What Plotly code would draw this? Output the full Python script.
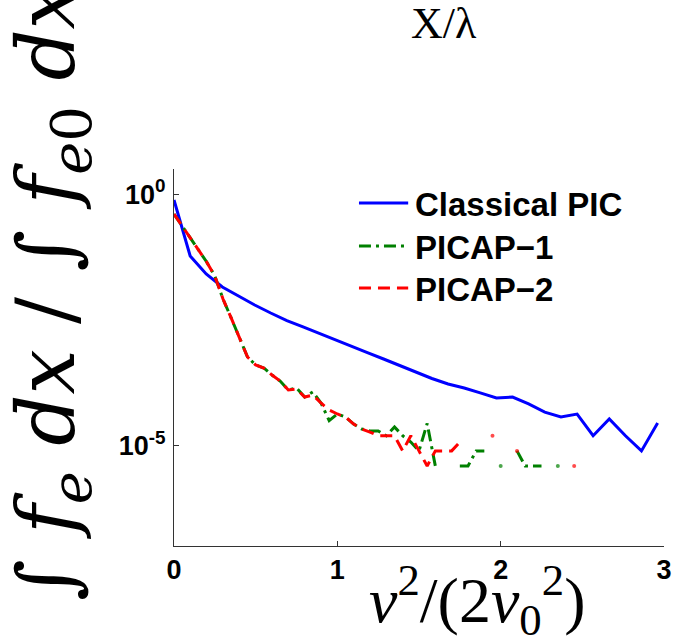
import plotly.graph_objects as go

# Energy axis v^2/(2 v0^2) and normalised electron distributions
x_classical = [0.000, 0.099, 0.197, 0.296, 0.395, 0.494, 0.592, 0.691, 0.790, 0.888,
               0.987, 1.086, 1.184, 1.283, 1.382, 1.481, 1.579, 1.678, 1.777, 1.875,
               1.974, 2.073, 2.171, 2.270, 2.369, 2.468, 2.566, 2.665, 2.764, 2.862,
               2.961]
f_classical = [0.764, 0.0587, 0.0258, 0.0142, 0.0094, 0.00622, 0.00432, 0.00305, 0.00228, 0.00169,
               0.00125, 9.53e-4, 7.03e-4, 5.25e-4, 3.90e-4, 2.89e-4, 2.15e-4, 1.67e-4, 1.39e-4, 1.11e-4,
               8.8e-5, 9.2e-5, 6.7e-5, 4.6e-5, 3.7e-5, 4.2e-5, 1.56e-5, 3.36e-5, 1.56e-5, 7.8e-6,
               2.8e-5]

x_picap = [0.00, 0.05, 0.10, 0.15, 0.20, 0.25, 0.30, 0.35, 0.40, 0.45,
           0.50, 0.55, 0.60, 0.65, 0.70, 0.75, 0.80, 0.85, 0.90, 0.95,
           1.00, 1.05, 1.10, 1.15, 1.20, 1.25, 1.30, 1.35, 1.40, 1.45,
           1.50, 1.55, 1.60, 1.65, 1.70, 1.75, 1.80, 1.85, 1.90, 1.95,
           2.00, 2.05, 2.10, 2.15, 2.20, 2.25, 2.30, 2.35, 2.40, 2.45]
f_picap1 = [0.402, 0.232, 0.134, 0.0773, 0.0447, 0.0235, 0.0082, 0.00344, 0.00144, 5.75e-4,
            3.99e-4, 3.48e-4, 2.52e-4, 1.91e-4, 1.27e-4, 1.40e-4, 9.2e-5, 1.16e-4, 7.0e-5, 3.12e-5,
            4.23e-5, 3.68e-5, 2.67e-5, 2.12e-5, 1.95e-5, 1.95e-5, 1.56e-5, 2.34e-5, 1.56e-5, 1.17e-5,
            7.8e-6, 2.73e-5, 3.9e-6, None, None, 3.9e-6, 3.9e-6, 7.8e-6, 7.8e-6, None,
            3.9e-6, None, 7.8e-6, 3.9e-6, 3.9e-6, 3.9e-6, None, 3.9e-6, None, None]
f_picap2 = [0.402, 0.232, 0.134, 0.0773, 0.0447, 0.0235, 0.0082, 0.00344, 0.00144, 5.75e-4,
            3.99e-4, 3.48e-4, 2.52e-4, 1.91e-4, 1.27e-4, 1.33e-4, 9.2e-5, 1.01e-4, 7.0e-5, 5.07e-5,
            4.23e-5, 3.68e-5, 2.67e-5, 2.12e-5, 1.85e-5, 1.56e-5, 1.56e-5, 1.56e-5, 7.8e-6, 1.56e-5,
            7.8e-6, 3.9e-6, 7.8e-6, 7.8e-6, 7.8e-6, 1.17e-5, None, None, None, 1.56e-5,
            None, None, 7.8e-6, None, None, None, None, None, None, 3.9e-6]

x_ticks = [0, 1, 2, 3]
x_ticklabels = ["<b>0</b>", "<b>1</b>", "<b>2</b>", "<b>3</b>"]
y_ticks = [1, 1e-5]
y_ticklabels = ["<b>10<sup>0</sup></b>", "<b>10<sup>-5</sup></b>"]

series = [
    ("Classical PIC", x_classical, f_classical, "#0000ff", "solid"),
    ("PICAP\u22121", x_picap, f_picap1, "#008000", "12px,5px,3px,5px"),
    ("PICAP\u22122", x_picap, f_picap2, "#ff0000", "12px,7px"),
]

# plot area in pixels
W, H = 684, 644
L, R, T, B = 174, 12, 169, 98
PW, PH = W - L - R, H - T - B


def px(xp):
    return (xp - L) / PW


def py(yp):
    return (H - B - yp) / PH


def lone_point_sizes(vals, size):
    """Marker size for samples that have no neighbours to join with a line."""
    out = []
    n = len(vals)
    for k, v in enumerate(vals):
        before = k == 0 or vals[k - 1] is None
        after = k == n - 1 or vals[k + 1] is None
        out.append(size if (v is not None and before and after) else 0)
    return out


fig = go.Figure()
for name, xs, ys, color, dash in series:
    fig.add_trace(go.Scatter(
        x=xs, y=ys, name=name, mode="lines+markers",
        line=dict(color=color, width=3, dash=dash),
        marker=dict(color=color, size=lone_point_sizes(ys, 4), line=dict(width=0)),
        connectgaps=False, showlegend=False,
    ))

axis_font = dict(family="Liberation Sans", size=27, color="black")

fig.update_xaxes(
    range=[0, 3], tickvals=x_ticks, ticktext=x_ticklabels,
    ticks="inside", ticklen=5, tickwidth=1, tickcolor="#333",
    showline=True, linecolor="#333", linewidth=1,
    showgrid=False, zeroline=False, tickfont=axis_font, ticklabelstandoff=0,
)
fig.update_yaxes(
    type="log", range=[-7, 0.5], tickvals=y_ticks, ticktext=y_ticklabels,
    ticks="inside", ticklen=5, tickwidth=1, tickcolor="#333",
    showline=True, linecolor="#333", linewidth=1,
    showgrid=False, zeroline=False, tickfont=axis_font, ticklabelstandoff=2,
)

annotations = []
shapes = []

# legend drawn as line samples with labels
legend_rows = [203, 246, 288]
for (name, xs, ys, color, dash), yrow in zip(series, legend_rows):
    shapes.append(dict(type="line", xref="paper", yref="paper",
                       x0=px(362), x1=px(412), y0=py(yrow), y1=py(yrow),
                       line=dict(color=color, width=3, dash=dash)))
    annotations.append(dict(text="<b>" + name + "</b>", xref="paper", yref="paper",
                            x=px(417), y=py(yrow + 1), xanchor="left", yanchor="middle",
                            showarrow=False,
                            font=dict(family="Liberation Sans", size=33, color="black")))

serif = "Liberation Serif, serif"
math_serif = "DejaVu Serif, serif"
annotations.append(dict(text="X/\u03bb", xref="paper", yref="paper",
                        x=px(448), y=py(23), xanchor="center", yanchor="middle",
                        showarrow=False, font=dict(family=serif, size=44, color="black")))
annotations.append(dict(text="<i>v</i><sup>2</sup>/(2<i>v</i><sub>0</sub><sup>2</sup>)",
                        xref="paper", yref="paper",
                        x=px(482), y=py(600), xanchor="center", yanchor="middle",
                        showarrow=False, font=dict(family=serif, size=64, color="black")))
annotations.append(dict(text="\u222b <i>f</i><sub><i>e</i></sub> <i>dx</i> / "
                             "\u222b <i>f</i><sub><i>e</i>0</sub> <i>dx</i>",
                        xref="paper", yref="paper", textangle=-90,
                        x=px(50), y=py(292), xanchor="center", yanchor="middle",
                        showarrow=False,
                        font=dict(family=math_serif, size=80, color="black", weight="normal")))

fig.update_layout(
    width=W, height=H, autosize=False,
    margin=dict(l=L, r=R, t=T, b=B, pad=0),
    paper_bgcolor="white", plot_bgcolor="white",
    showlegend=False, annotations=annotations, shapes=shapes,
)

fig.write_html("out.html")
